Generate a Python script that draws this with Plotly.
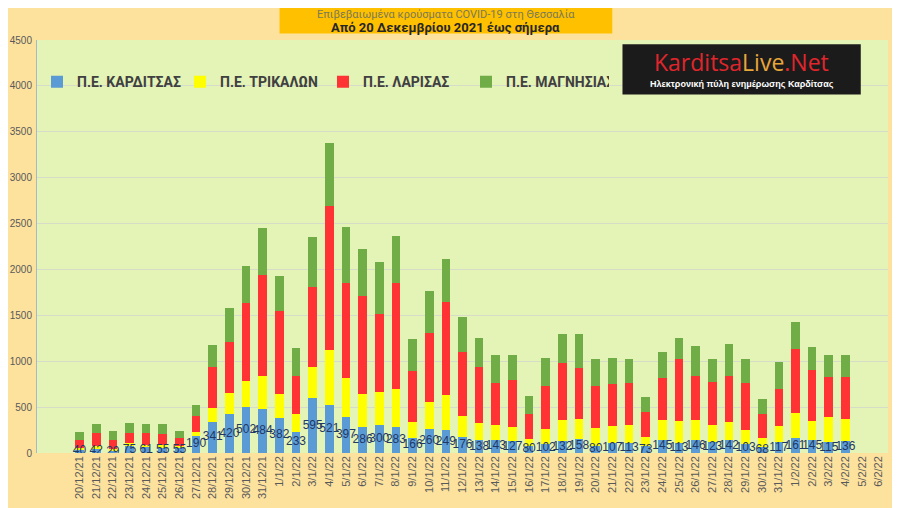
import plotly.graph_objects as go

dates = ['20/12/21', '21/12/21', '22/12/21', '23/12/21', '24/12/21', '25/12/21', '26/12/21',
         '27/12/21', '28/12/21', '29/12/21', '30/12/21', '31/12/21',
         '1/1/22', '2/1/22', '3/1/22', '4/1/22', '5/1/22', '6/1/22', '7/1/22', '8/1/22',
         '9/1/22', '10/1/22', '11/1/22', '12/1/22', '13/1/22', '14/1/22', '15/1/22',
         '16/1/22', '17/1/22', '18/1/22', '19/1/22', '20/1/22', '21/1/22', '22/1/22',
         '23/1/22', '24/1/22', '25/1/22', '26/1/22', '27/1/22', '28/1/22', '29/1/22',
         '30/1/22', '31/1/22', '1/2/22', '2/2/22', '3/2/22', '4/2/22', '5/2/22', '6/2/22']

karditsa = [40, 42, 29, 75, 61, 55, 55, 190, 341, 420, 502, 484,
            382, 233, 595, 521, 397, 286, 300, 283, 166, 260, 249, 176, 138, 143, 127,
            80, 102, 132, 158, 80, 107, 113, 73, 145, 113, 146, 123, 142, 103,
            68, 117, 161, 145, 115, 136, None, None]
trikala = [15, 30, 12, 35, 30, 35, 18, 44, 153, 231, 288, 358,
           262, 188, 342, 606, 416, 355, 362, 412, 171, 296, 384, 227, 191, 164, 155,
           74, 162, 223, 215, 195, 183, 195, 101, 213, 235, 209, 185, 191, 150,
           91, 176, 277, 199, 276, 230, None, None]
larisa = [90, 150, 105, 113, 131, 120, 88, 172, 443, 560, 842, 1098,
          908, 421, 867, 1567, 1043, 1068, 853, 1161, 556, 751, 1010, 695, 608, 454, 509,
          267, 464, 626, 553, 460, 467, 456, 268, 460, 676, 481, 467, 503, 511,
          265, 409, 695, 557, 438, 463, None, None]
magnisia = [85, 96, 96, 103, 92, 103, 81, 117, 241, 366, 410, 512,
            373, 304, 553, 684, 607, 509, 568, 512, 348, 461, 472, 384, 315, 311, 281,
            198, 311, 311, 366, 289, 278, 260, 166, 282, 229, 333, 249, 355, 260,
            162, 294, 290, 257, 239, 239, None, None]

fig = go.Figure()
fig.add_trace(go.Bar(x=dates, y=karditsa, name='Π.Ε. ΚΑΡΔΙΤΣΑΣ', marker_color='#5B9BD5'))
fig.add_trace(go.Bar(x=dates, y=trikala, name='Π.Ε. ΤΡΙΚΑΛΩΝ', marker_color='#FFFF00'))
fig.add_trace(go.Bar(x=dates, y=larisa, name='Π.Ε. ΛΑΡΙΣΑΣ', marker_color='#FF3333'))
fig.add_trace(go.Bar(x=dates, y=magnisia, name='Π.Ε. ΜΑΓΝΗΣΙΑΣ', marker_color='#70AD47'))
fig.update_traces(marker_line_width=0)

# labels for Karditsa, centred on the blue segment
lbl_x = [d for d, v in zip(dates, karditsa) if v is not None]
lbl_v = [v for v in karditsa if v is not None]
fig.add_trace(go.Scatter(x=lbl_x, y=[v / 2 for v in lbl_v], text=[str(v) for v in lbl_v],
                         mode='text', showlegend=False, hoverinfo='skip',
                         textfont=dict(color='#1F3864', size=12, family='Liberation Sans')))

# page body has an 8px offset, margins compensate for it
fig.update_layout(
    width=900, height=508,
    barmode='stack', bargap=0.48,
    paper_bgcolor='#FDE29E', plot_bgcolor='#E4F3B6',
    margin=dict(l=29, r=20, t=32, b=63, autoexpand=False),
    font=dict(family='Liberation Sans', color='#595959', size=11),
    legend=dict(orientation='h', x=0, y=0.898, xanchor='left', yanchor='middle',
                bgcolor='rgba(0,0,0,0)', traceorder='normal', itemwidth=30,
                entrywidth=98, entrywidthmode='pixels',
                font=dict(family='Roboto', size=14, color='#404040', weight='bold')),
    showlegend=True,
)
fig.update_xaxes(type='category', tickangle=-90, showgrid=False, ticks='',
                 tickfont=dict(size=11, color='#595959'), showline=False, automargin=False)
fig.update_yaxes(range=[0, 4500], dtick=500, showgrid=True, gridcolor='#D6DCC8',
                 gridwidth=1, zeroline=False, showline=True, linecolor='#A9B8C8',
                 ticks='', ticklabelstandoff=2, automargin=False,
                 tickfont=dict(size=10, color='#595959'))

# title box
fig.add_shape(type='rect', xref='paper', yref='paper', x0=0.285, x1=0.676,
              y0=1.016, y1=1.12, fillcolor='#FFC000', line_width=0, layer='above')
fig.add_annotation(xref='paper', yref='paper', x=0.4805, y=1.062, showarrow=False,
                   xanchor='center', yanchor='middle',
                   text='Επιβεβαιωμένα κρούσματα COVID-19 στη Θεσσαλία',
                   font=dict(family='Roboto', size=11, color='#7A7A55'))
fig.add_annotation(xref='paper', yref='paper', x=0.4805, y=1.031, showarrow=False,
                   xanchor='center', yanchor='middle',
                   text='<b>Από 20 Δεκεμβρίου 2021 έως σήμερα</b>',
                   font=dict(family='Roboto', size=13, color='#262626'))

# logo
fig.add_shape(type='rect', xref='paper', yref='paper', x0=0.688, x1=0.968,
              y0=0.868, y1=0.990, fillcolor='#1B1B1B', line_width=0, layer='above')
fig.add_annotation(xref='paper', yref='paper', x=0.828, y=0.947, showarrow=False,
                   xanchor='center', yanchor='middle',
                   text="<span style='color:#E0262C'>Karditsa</span>"
                        "<span style='color:#E9A63A'>Live</span>"
                        "<span style='color:#E0262C'>.Net</span>",
                   font=dict(family='Open Sans', size=23))
fig.add_annotation(xref='paper', yref='paper', x=0.828, y=0.893, showarrow=False,
                   xanchor='center', yanchor='middle',
                   text='<b>Ηλεκτρονική πύλη ενημέρωσης Καρδίτσας</b>',
                   font=dict(family='Liberation Sans', size=9, color='#FFFFFF'))

fig.write_html("out.html")
